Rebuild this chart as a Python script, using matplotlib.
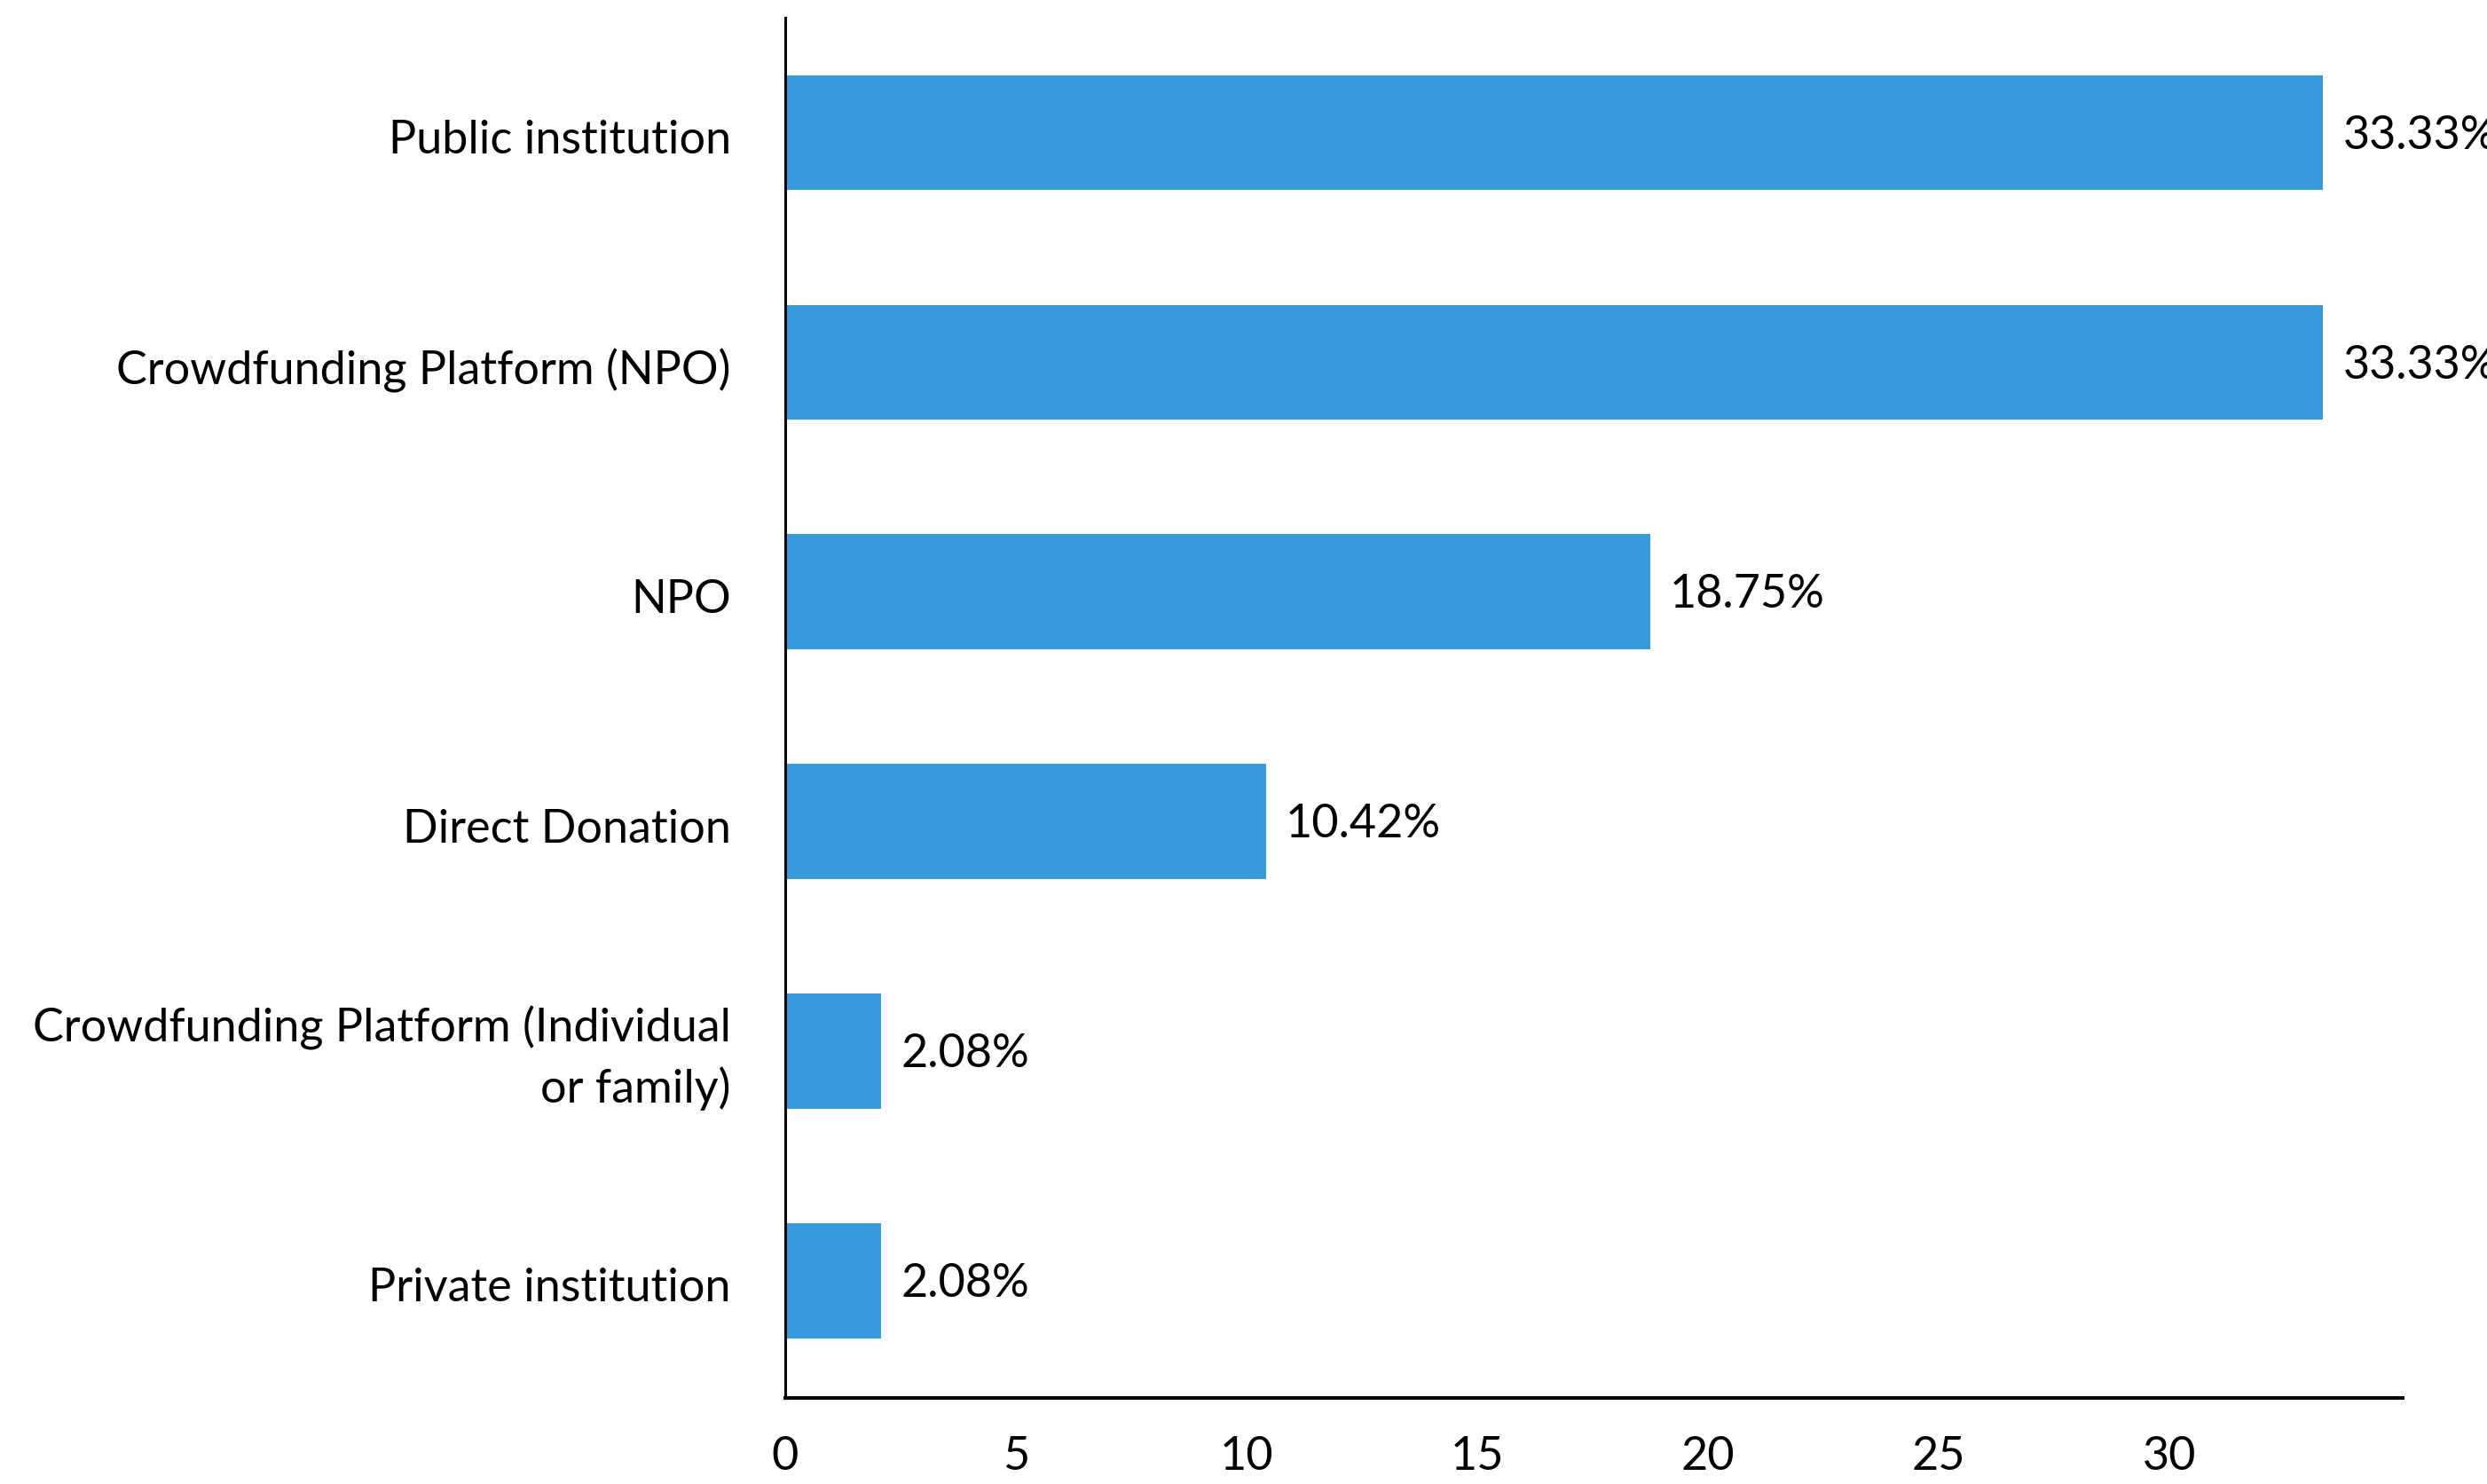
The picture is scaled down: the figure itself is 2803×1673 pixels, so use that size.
import matplotlib
matplotlib.use("Agg")
import matplotlib.pyplot as plt
import matplotlib.transforms as mtransforms

plt.rcParams["font.family"] = ["Lato", "DejaVu Sans"]

# Share of funding channels, listed bottom to top
categories = [
    "Private institution",
    "Crowdfunding Platform (Individual\nor family)",
    "Direct Donation",
    "NPO",
    "Crowdfunding Platform (NPO)",
    "Public institution",
]
shares = [2.08, 2.08, 10.42, 18.75, 33.33, 33.33]
value_labels = ["2.08%", "2.08%", "10.42%", "18.75%", "33.33%", "33.33%"]
x_ticks = [0, 5, 10, 15, 20, 25, 30]

FS = 37.5

fig = plt.figure(figsize=(28.03, 16.74), dpi=100)
ax = fig.add_axes([0.3157, 0.058, 0.6503, 0.9295])

y = range(len(categories))
bars = ax.barh(y, shares, height=0.5, color="#379bdb")

for bar, text in zip(bars, value_labels):
    ax.annotate(text, xy=(bar.get_width(), bar.get_y() + bar.get_height() / 2),
                xytext=(16, -2), textcoords="offset points",
                ha="left", va="center", fontsize=FS, color="black",
                annotation_clip=False)

ax.set_yticks(list(y))
ax.set_yticklabels(categories, fontsize=FS, linespacing=1.45)
ax.set_xticks(x_ticks)
ax.set_xticklabels([str(t) for t in x_ticks], fontsize=FS)
ax.set_xlim(0, 35.05)
ax.set_ylim(-0.51, 5.5)

ax.tick_params(axis="y", length=0, pad=44)
ax.tick_params(axis="x", length=0, pad=30)

# nudge the category labels so they sit level with the bars
for lbl in ax.get_yticklabels():
    dy = 5 / 72 if "\n" in lbl.get_text() else -2.5 / 72
    lbl.set_transform(lbl.get_transform() + mtransforms.ScaledTranslation(0, dy, fig.dpi_scale_trans))

for side in ("top", "right"):
    ax.spines[side].set_visible(False)
ax.spines["left"].set_linewidth(2.2)
ax.spines["bottom"].set_linewidth(2.9)

fig.savefig("out.png", dpi=100)
